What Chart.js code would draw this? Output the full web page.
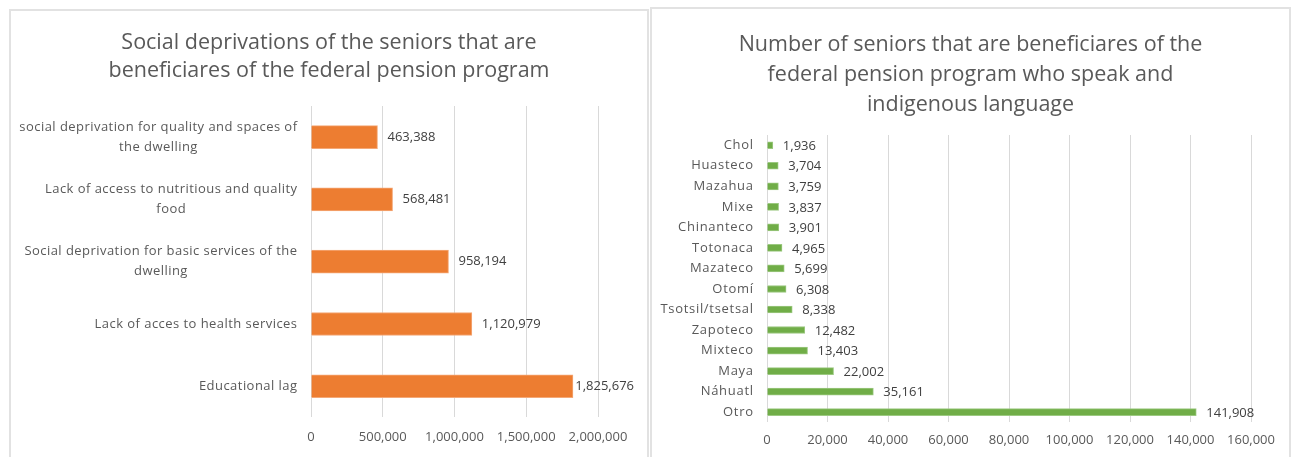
<!DOCTYPE html>
<html>
<head>
<meta charset="utf-8">
<script src="https://cdn.jsdelivr.net/npm/chart.js@4/dist/chart.umd.min.js"></script>
<style>
  html, body { margin: 0; padding: 0; background: #ffffff; overflow: hidden; }
  body { width: 1292px; height: 457px; position: relative; }
  .panel { position: absolute; border: 2px solid #e2e2e2; background: #ffffff; }
  .panel canvas { display: block; }
</style>
</head>
<body>
<div class="panel" style="left:9px; top:9px; width:636px; height:460px;">
  <canvas id="deprivations" width="636" height="446"></canvas>
</div>
<div class="panel" style="left:650px; top:7px; width:637px; height:462px;">
  <canvas id="languages" width="637" height="449"></canvas>
</div>
<script>
// Social deprivations (top to bottom)
const deprivationLabels = [
  ['social deprivation for quality and spaces of', 'the dwelling'],
  ['Lack of access to nutritious and quality', 'food'],
  ['Social deprivation for basic services of the', 'dwelling'],
  ['Lack of acces to health services'],
  ['Educational lag']
];
const deprivationValues = [463388, 568481, 958194, 1120979, 1825676];
const deprivationTicks = [0, 500000, 1000000, 1500000, 2000000];

// Indigenous languages (top to bottom)
const languageLabels = [
  'Chol', 'Huasteco', 'Mazahua', 'Mixe', 'Chinanteco', 'Totonaca', 'Mazateco',
  'Otomí', 'Tsotsil/tsetsal', 'Zapoteco', 'Mixteco', 'Maya', 'Náhuatl', 'Otro'
];
const languageValues = [1936, 3704, 3759, 3837, 3901, 4965, 5699, 6308, 8338, 12482, 13403, 22002, 35161, 141908];
const languageTicks = [0, 20000, 40000, 60000, 80000, 100000, 120000, 140000, 160000];

const FONT = '"Open Sans", Lato, sans-serif';
const fmt = v => Number(v).toLocaleString('en-US');

// Category labels: each multi-line label is a centred block, right-aligned against the axis
const categoryLabelPlugin = {
  id: 'categoryLabels',
  afterDraw(chart, args, opts) {
    const ctx = chart.ctx;
    const yScale = chart.scales.y;
    const right = chart.chartArea.left - opts.gap;
    ctx.save();
    ctx.font = opts.size + 'px ' + FONT;
    ctx.letterSpacing = opts.spacing + 'px';
    ctx.fillStyle = '#595959';
    ctx.textBaseline = 'middle';
    ctx.textAlign = 'left';
    chart.data.labels.forEach((label, i) => {
      const lines = Array.isArray(label) ? label : [label];
      const widths = lines.map(l => ctx.measureText(l).width - opts.spacing);
      const w = Math.max(...widths);
      const cx = right - w / 2;
      const y0 = yScale.getPixelForTick(i) - (lines.length - 1) * opts.lineHeight / 2;
      lines.forEach((l, k) => ctx.fillText(l, cx - widths[k] / 2, y0 + k * opts.lineHeight + opts.dy));
    });
    ctx.restore();
  }
};

// Value labels just past the end of each bar, kept inside the panel
const valueLabelPlugin = {
  id: 'valueLabels',
  afterDatasetsDraw(chart, args, opts) {
    const ctx = chart.ctx;
    ctx.save();
    ctx.font = opts.size + 'px ' + FONT;
    ctx.fillStyle = '#404040';
    ctx.textBaseline = 'middle';
    ctx.textAlign = 'left';
    const limit = chart.width - opts.edge;
    const meta = chart.getDatasetMeta(0);
    meta.data.forEach((bar, i) => {
      const text = fmt(chart.data.datasets[0].data[i]);
      const w = ctx.measureText(text).width;
      const x = Math.min(bar.x + opts.gap, limit - w);
      ctx.fillText(text, x, bar.y + opts.dy);
    });
    ctx.restore();
  }
};

function makeChart(id, cfg) {
  return new Chart(document.getElementById(id), {
    type: 'bar',
    data: {
      labels: cfg.labels,
      datasets: [{
        data: cfg.values,
        backgroundColor: cfg.color,
        borderColor: cfg.edge,
        borderWidth: 1,
        barThickness: cfg.barThickness
      }]
    },
    plugins: [categoryLabelPlugin, valueLabelPlugin],
    options: {
      indexAxis: 'y',
      responsive: false,
      animation: false,
      devicePixelRatio: 1,
      layout: { padding: 0 },
      plugins: {
        legend: { display: false },
        tooltip: { enabled: false },
        title: {
          display: true,
          text: cfg.title,
          color: '#595959',
          font: { family: FONT, size: 21.5, weight: 'normal', lineHeight: cfg.titleLineHeight },
          padding: cfg.titlePadding
        },
        categoryLabels: { size: 13, spacing: cfg.labelSpacing, gap: 14, lineHeight: 20, dy: 0 },
        valueLabels: { size: 13, gap: 10, edge: 13, dy: cfg.valueDy }
      },
      scales: {
        x: {
          min: cfg.ticks[0],
          max: cfg.ticks[cfg.ticks.length - 1],
          afterBuildTicks: axis => { axis.ticks = cfg.ticks.map(v => ({ value: v })); },
          grid: { color: '#d9d9d9', lineWidth: 1, drawTicks: false },
          border: { display: false },
          ticks: {
            color: '#595959',
            font: { family: FONT, size: 13 },
            padding: cfg.tickPadding,
            maxRotation: 0,
            autoSkip: false,
            callback: v => fmt(v)
          }
        },
        y: {
          grid: { display: false, drawTicks: false },
          border: { display: false },
          ticks: { display: false },
          afterFit: axis => { axis.width = cfg.axisWidth; }
        },
        // empty strip on the right, keeps the title centred on the whole panel
        yRight: {
          axis: 'y',
          type: 'category',
          position: 'right',
          grid: { display: false, drawTicks: false },
          border: { display: false },
          ticks: { display: false },
          afterFit: axis => { axis.width = cfg.rightGap; }
        }
      }
    }
  });
}

makeChart('deprivations', {
  labels: deprivationLabels,
  values: deprivationValues,
  ticks: deprivationTicks,
  color: '#ed7d31',
  edge: '#f4a877',
  barThickness: 23,
  title: ['Social deprivations of the seniors that are', 'beneficiares of the federal pension program'],
  titleLineHeight: 28 / 21.5,
  titlePadding: { top: 18, bottom: 21 },
  axisWidth: 300,
  rightGap: 49,
  tickPadding: 12,
  labelSpacing: 0.45,
  valueDy: 0
});

makeChart('languages', {
  labels: languageLabels,
  values: languageValues,
  ticks: languageTicks,
  color: '#70ad47',
  edge: '#9cc981',
  barThickness: 7,
  title: ['Number of seniors that are beneficiares of the', 'federal pension program who speak and', 'indigenous language'],
  titleLineHeight: 30 / 21.5,
  titlePadding: { top: 21, bottom: 15 },
  axisWidth: 115,
  rightGap: 38,
  tickPadding: 10,
  labelSpacing: 0.7,
  valueDy: 1
});
</script>
</body>
</html>
